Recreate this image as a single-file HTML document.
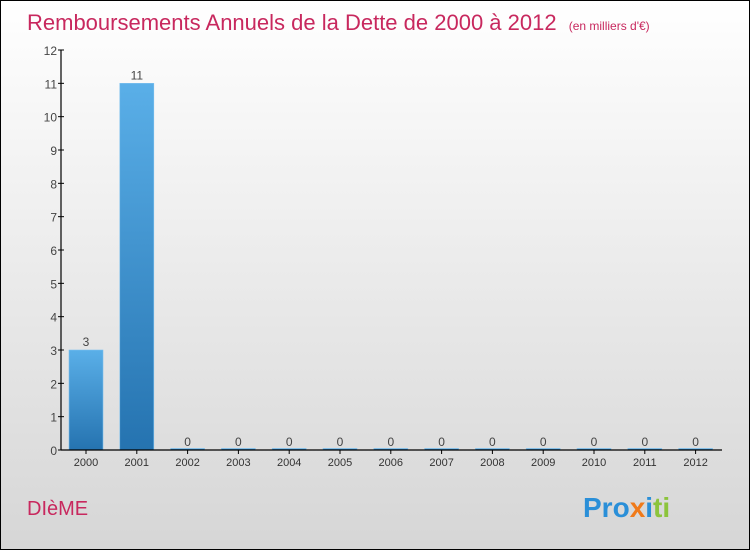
<!DOCTYPE html>
<html><head><meta charset="utf-8"><style>
body{margin:0;width:750px;height:550px;overflow:hidden;font-family:"Liberation Sans",sans-serif}
#c{position:relative;width:748px;height:548px;border:1px solid #000;background:linear-gradient(#fff,#d6d6d6)}
svg{position:absolute;left:0;top:0}
</style></head><body>
<div id="c">
<svg id="s" width="748" height="548">
<defs><linearGradient id="g" x1="0" y1="0" x2="0" y2="1"><stop offset="0" stop-color="#5aafe8"/><stop offset="1" stop-color="#2573b0"/></linearGradient></defs>
<text x="26" y="29" font-size="22" fill="#c8285e">Remboursements Annuels de la Dette de 2000 à 2012 <tspan font-size="12" dx="6">(en milliers d'€)</tspan></text>
<text x="26" y="514" font-size="20" fill="#c8285e">DIèME</text>
<text x="582" y="516" font-size="28" font-weight="bold"><tspan fill="#2a8fd8">Pro</tspan><tspan fill="#f07a1a">x</tspan><tspan fill="#2a8fd8">i</tspan><tspan fill="#8cc43c">ti</tspan></text>
</svg></div>
<script>
const categories=["2000","2001","2002","2003","2004","2005","2006","2007","2008","2009","2010","2011","2012"];
const values=[3,11,0,0,0,0,0,0,0,0,0,0,0];
const yTicks=[0,1,2,3,4,5,6,7,8,9,10,11,12];
const s=document.getElementById('s'),NS='http://www.w3.org/2000/svg';
const x0=60,y0=449,yMax=12,ph=400,step=50.8,first=85;
const y=v=>y0-v/yMax*ph, x=i=>first+i*step;
function mk(t,a,txt){const e=document.createElementNS(NS,t);for(const k in a)e.setAttribute(k,a[k]);if(txt!==undefined)e.textContent=txt;s.appendChild(e);return e;}
yTicks.forEach(t=>{
const l=mk('line',{x1:x0-3,x2:x0+3,y1:y(t),y2:y(t),stroke:'#000'});


const tx=mk('text',{x:x0-4,y:y(t)+5,'font-size':12,'text-anchor':'end',fill:'#444'},t);


});
categories.forEach((c,i)=>{
const v=values[i],h=Math.max(y0-y(v),1.5);
const b=mk('rect',{x:x(i)-17,y:y0-h,width:34,height:h,fill:'url(#g)',stroke:'#7cc0ee','stroke-width':0.6});


const lb=mk('text',{x:x(i),y:y(v)-4,'font-size':12,'text-anchor':'middle',fill:'#444'},v);


const tk=mk('line',{x1:x(i),x2:x(i),y1:y0,y2:y0+4,stroke:'#000'});


const xl=mk('text',{x:x(i),y:y0+16,'font-size':11,'text-anchor':'middle',fill:'#333'},c);


});
const ya=mk('line',{x1:x0,x2:x0,y1:y(12),y2:y0,stroke:'#000','stroke-width':1.2});


const xa=mk('line',{x1:x0,x2:721,y1:y0,y2:y0,stroke:'#000','stroke-width':1.2});


</script>
</body></html>
